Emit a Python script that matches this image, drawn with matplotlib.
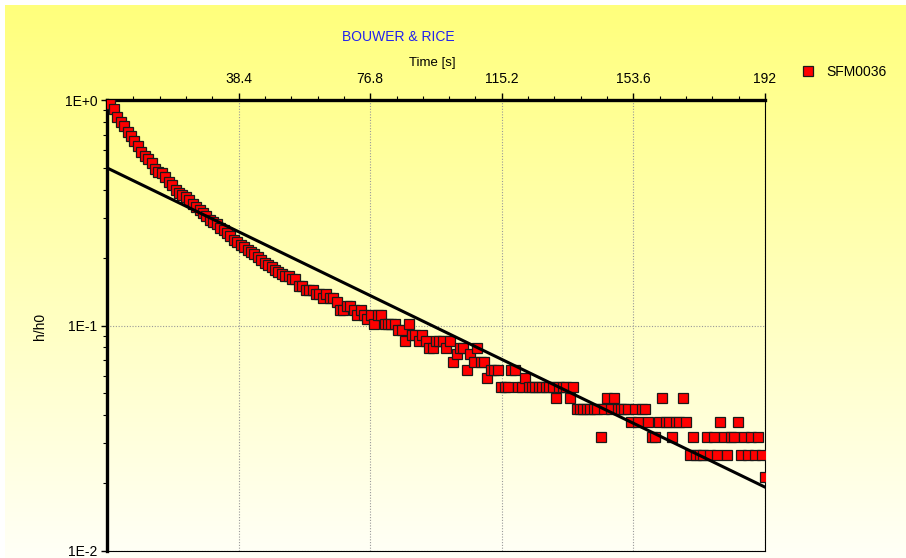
import numpy as np
import matplotlib
matplotlib.use("Agg")
import matplotlib.pyplot as plt
from matplotlib.ticker import FixedLocator, LogLocator, NullFormatter

plt.rcParams['font.family'] = ['Liberation Sans', 'DejaVu Sans']

# slug test SFM0036, one reading per second
time_s = np.arange(0, 193)
h_h0 = [
    1.000, 0.957, 0.915, 0.840, 0.800, 0.765, 0.720, 0.690, 0.655, 0.625,
    0.590, 0.565, 0.545, 0.525, 0.495, 0.480, 0.475, 0.455, 0.435, 0.420,
    0.400, 0.385, 0.378, 0.370, 0.360, 0.345, 0.335, 0.325, 0.316, 0.305,
    0.294, 0.287, 0.282, 0.272, 0.266, 0.258, 0.250, 0.240, 0.234, 0.228,
    0.222, 0.217, 0.212, 0.207, 0.202, 0.196, 0.190, 0.186, 0.181, 0.177,
    0.173, 0.170, 0.165, 0.165, 0.160, 0.160,
    0.149, 0.149, 0.144, 0.144,
    0.1436, 0.1383, 0.1383, 0.1330, 0.1383, 0.1330, 0.1330, 0.1277, 0.1170, 0.1170,
    0.1223, 0.1223, 0.1170, 0.1117, 0.1170, 0.1117, 0.1064, 0.1117, 0.1011, 0.1117,
    0.1117, 0.1011, 0.1011, 0.1011, 0.1011, 0.0957, 0.0957, 0.0851, 0.1011, 0.0904,
    0.0904, 0.0851, 0.0904, 0.0851, 0.0798, 0.0798, 0.0851, 0.0851, 0.0851, 0.0798,
    0.0851, 0.0691, 0.0745, 0.0798, 0.0798, 0.0638, 0.0745, 0.0691, 0.0798, 0.0691,
    0.0691, 0.0585, 0.0638, 0.0638, 0.0638, 0.0532, 0.0532, 0.0532, 0.0638, 0.0638,
    0.0532, 0.0532, 0.0585, 0.0532, 0.0532, 0.0532, 0.0532, 0.0532, 0.0532, 0.0532,
    0.0532, 0.0479, 0.0532, 0.0532, 0.0532, 0.0479, 0.0532, 0.0426, 0.0426, 0.0426,
    0.0426, 0.0426, 0.0426, 0.0426, 0.0319, 0.0426, 0.0479, 0.0426, 0.0479, 0.0426,
    0.0426, 0.0426, 0.0426, 0.0372, 0.0426, 0.0372, 0.0426, 0.0426, 0.0372, 0.0319,
    0.0319, 0.0372, 0.0479, 0.0372, 0.0372, 0.0319, 0.0372, 0.0372, 0.0479, 0.0372,
    0.0266, 0.0319, 0.0266, 0.0266, 0.0266, 0.0319, 0.0266, 0.0319, 0.0266, 0.0372,
    0.0319, 0.0266, 0.0319, 0.0319, 0.0372, 0.0266, 0.0319, 0.0266, 0.0319, 0.0266,
    0.0319, 0.0266, 0.0213,
]

# Bouwer & Rice straight-line fit
fit_t = [0, 192]
fit_h = [0.50, 0.0192]

x_ticks = [38.4, 76.8, 115.2, 153.6, 192]
x_tick_labels = ["38.4", "76.8", "115.2", "153.6", "192"]
y_ticks = [1.0, 0.1, 0.01]
y_tick_labels = ["1E+0", "1E-1", "1E-2"]

W, H = 906, 558
fig = plt.figure(figsize=(W / 100, H / 100), dpi=100, facecolor="white")

# yellow gradient background
bg = fig.add_axes([5 / W, 0, (W - 5) / W, (H - 5) / H], zorder=-10)
grad = np.linspace(0, 1, 256).reshape(-1, 1)
top = np.array([255, 255, 124]) / 255
bot = np.array([255, 255, 247]) / 255
img = top + (bot - top) * grad[:, :, None]
bg.imshow(img, aspect="auto", extent=[0, 1, 0, 1])
bg.axis("off")

# plot area
L, R, T, B = 107, 765, 100, 551
ax = fig.add_axes([L / W, (H - B) / H, (R - L) / W, (B - T) / H])
ax.set_facecolor("none")

ax.plot(time_s, h_h0, linestyle="none", marker="s", markersize=7.6,
        markerfacecolor="#ff0000", markeredgecolor="#1a1a1a",
        markeredgewidth=0.9, label="SFM0036", zorder=3)
ax.plot(fit_t, fit_h, color="black", linewidth=2.2, zorder=4)

ax.set_yscale("log")
ax.set_xlim(0, 192)
ax.set_ylim(0.01, 1.0)

ax.xaxis.tick_top()
ax.xaxis.set_major_locator(FixedLocator(x_ticks))
ax.set_xticklabels(x_tick_labels)
ax.xaxis.set_minor_locator(FixedLocator(np.arange(7.68, 192, 7.68)))
ax.set_yticks(y_ticks)
ax.set_yticklabels(y_tick_labels)
ax.yaxis.set_minor_locator(LogLocator(base=10, subs=np.arange(2, 10)))
ax.yaxis.set_minor_formatter(NullFormatter())

ax.tick_params(axis="x", which="major", direction="out", length=5, width=1,
               pad=5, labelsize=10, colors="black")
ax.tick_params(axis="x", which="minor", direction="out", length=3, width=0.8)
ax.tick_params(axis="y", which="major", direction="out", length=4, width=1,
               pad=3, labelsize=10)
ax.tick_params(axis="y", which="minor", direction="out", length=3, width=0.8)

ax.grid(True, which="major", color="#999999", linestyle=(0, (1, 1.5)), linewidth=0.8)

ax.spines["top"].set_linewidth(2.4)
ax.spines["left"].set_linewidth(2.4)
ax.spines["right"].set_linewidth(0.8)
ax.spines["right"].set_linestyle((0, (1, 1)))
ax.spines["bottom"].set_linewidth(0.8)
ax.spines["bottom"].set_linestyle((0, (1, 1)))

fig.text(398 / W, 1 - 37 / H, "BOUWER & RICE", color="#2222ee", fontsize=10,
         ha="center", va="center")
fig.text(432 / W, 1 - 63 / H, "Time [s]", color="black", fontsize=9.5,
         ha="center", va="center")
fig.text(40 / W, 1 - 326 / H, "h/h0", color="black", fontsize=10,
         ha="center", va="center", rotation=90)

ax.legend(loc="center left", bbox_to_anchor=(801 / W, 1 - 72 / H),
          bbox_transform=fig.transFigure, frameon=False, handlelength=1,
          handletextpad=0.8, borderpad=0, borderaxespad=0, fontsize=10,
          markerscale=1.0)

fig.savefig("out.png", dpi=100, facecolor=fig.get_facecolor())
